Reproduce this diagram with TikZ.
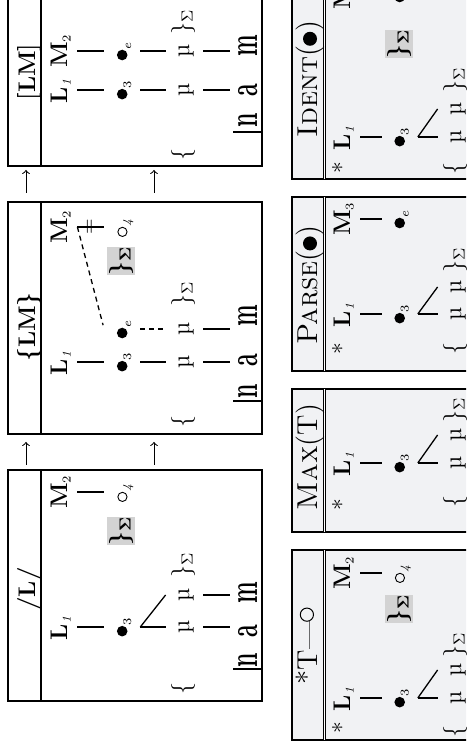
\documentclass[tikz,border=0pt]{standalone}
\usepackage{amsmath}
\usepackage{amssymb}
\usepackage{xcolor}
\usepackage{tikz}
\usetikzlibrary{arrows}

\definecolor{tabgray}{HTML}{F1F2F4}
\definecolor{hilite}{HTML}{D3D3D3}

\newcommand{\hdot}{\tikz\fill (0,0) circle (2.65pt);}
\newcommand{\bigdot}{\tikz\fill (0,0) circle (3.5pt);}
\newcommand{\hring}{\tikz\draw[line width=0.45pt] (0,0) circle (2.3pt);}
\newcommand{\bigring}{\raisebox{1.5pt}{\tikz\draw[line width=0.5pt] (0,0) circle (3.3pt);}}
\newcommand{\ix}[1]{$_{\scriptscriptstyle #1}$}
\newcommand{\nam}[1]{\scalebox{0.55}[1]{#1}}

\tikzstyle{line} = [draw, line width=0.65pt]
\tikzstyle{ins} = [draw, line width=0.65pt, dash pattern=on 2.5pt off 2pt]
\tikzstyle{cand} = [draw, line width=0.65pt]
\tikzstyle{tabl} = [draw, fill=tabgray, line width=0.65pt]
\tikzstyle{titlerule} = [draw, line width=1.1pt]
\tikzstyle{dblrule} = [draw, double, line width=0.45pt, double distance=0.8pt]
\tikzstyle{flow} = [draw, ->, line width=0.5pt]
\tikzstyle{ttl} = [font=\large\bfseries, anchor=base, inner sep=0pt]
\tikzstyle{ctitle} = [font=\Large, anchor=base, inner sep=0pt]
\tikzstyle{tone} = [font=\large, anchor=base, inner xsep=0pt, inner ysep=5pt, text height=8.5pt, text depth=0pt]
\tikzstyle{tbu} = [font=\large, anchor=base, inner xsep=0pt, inner ysep=6.2pt, text height=5.3pt, text depth=0pt]
\tikzstyle{mora} = [font=\large, anchor=base, inner xsep=0pt, inner ysep=6.3pt, text height=5.2pt, text depth=0.7pt]
\tikzstyle{brk} = [font=\large, anchor=base, inner sep=0pt]
\tikzstyle{foot} = [font=\large\boldmath, fill=hilite, inner sep=0pt, minimum width=11pt, minimum height=14pt]
\tikzstyle{seg} = [font=\fontsize{21}{24}\selectfont\bfseries, anchor=base, inner xsep=0pt, inner ysep=4pt, text height=9.5pt, text depth=0pt]
\tikzstyle{bdry} = [anchor=south, inner sep=0pt]
\tikzstyle{delink} = [font=\normalsize, inner sep=0pt]

\begin{document}
\begin{tikzpicture}[x=0.5pt, y=0.5pt]
\path[use as bounding box] (0,0) rectangle (466,747);
\clip (0,0) rectangle (466,747);
\begin{scope}[rotate=90, transform shape]
%
% /L/
\draw[cand] (46,-8) rectangle (277,-262);
\draw[titlerule] (46,-41) -- (277,-41);
\node[ttl] (aT) at (158,-35) {/L/};
\node[tone] (aL) at (120,-67) {\textbf{L}\ix{\mathit{1}}};
\node[tone] (aM) at (255,-67) {\textbf{M}\ix{2}};
\node[tbu] (a3) at (120,-127.5) {\hdot\ix{3}};
\node[tbu] (a4) at (255,-127.5) {\hring\ix{\mathit{4}}};
\node[foot] (aF) at (216,-121) {$\}_{\Sigma}$};
\node[brk] (aLb) at (58,-189) {$\{$};
\node[mora] (am1) at (120,-189) {\textmu};
\node[mora] (am2) at (152,-189) {\textmu};
\node[brk] (aRb) at (182,-189) {$\}_{\Sigma}$};
\node[bdry] (aB) at (78,-262) {\rule{0.65pt}{14.5pt}};
\node[seg] (asn) at (87,-257) {\nam{n}};
\node[seg] (asa) at (116,-257) {\nam{a}};
\node[seg] (asm) at (154,-257) {\nam{m}};
\draw[line] (aL) -- (a3);
\draw[line] (aM) -- (a4);
\draw[line] (a3) -- (am1);
\draw[line] (a3.south) -- (am2.north);
\draw[line] (am1) -- (am1 |- asa.north);
\draw[line] (am2) -- (am2 |- asm.north);
%
\coordinate (ab1) at (282,-26);
\coordinate (ab2) at (305,-26);
\coordinate (ab3) at (282,-154);
\coordinate (ab4) at (305,-154);
\draw[flow] (ab1) -- (ab2);
\draw[flow] (ab3) -- (ab4);
%
% {LM}
\draw[cand] (313,-8) rectangle (545,-262);
\draw[titlerule] (313,-41) -- (545,-41);
\node[ttl] (bT) at (420,-35) {\{LM\}};
\node[tone] (bL) at (385,-67) {\textbf{L}\ix{\mathit{1}}};
\node[tone] (bM) at (520,-67) {\textbf{M}\ix{2}};
\node[tbu] (b3) at (385,-127.5) {\hdot\ix{3}};
\node[tbu] (be) at (418,-127.5) {\hdot\ix{e}};
\node[tbu] (b4) at (520,-127.5) {\hring\ix{\mathit{4}}};
\node[foot] (bF) at (486,-121) {$\}_{\Sigma}$};
\node[brk] (bLb) at (325,-189) {$\{$};
\node[mora] (bm1) at (385,-189) {\textmu};
\node[mora] (bm2) at (418,-189) {\textmu};
\node[brk] (bRb) at (453,-189) {$\}_{\Sigma}$};
\node[bdry] (bB) at (346,-262) {\rule{0.65pt}{14.5pt}};
\node[seg] (bsn) at (356,-257) {\nam{n}};
\node[seg] (bsa) at (387,-257) {\nam{a}};
\node[seg] (bsm) at (431,-257) {\nam{m}};
\draw[line] (bL) -- (b3);
\draw[line] (bM) -- (b4) node[midway, delink] {$=$};
\draw[ins, shorten >=2pt] (bM.south) -- (be.north);
\draw[line] (b3) -- (bm1);
\draw[ins] (be) -- (bm2);
\draw[line] (bm1) -- (bm1 |- bsa.north);
\draw[line] (bm2) -- (bm2 |- bsm.north);
%
\coordinate (bc1) at (554,-26);
\coordinate (bc2) at (577,-26);
\coordinate (bc3) at (554,-154);
\coordinate (bc4) at (577,-154);
\draw[flow] (bc1) -- (bc2);
\draw[flow] (bc3) -- (bc4);
%
% [LM]
\draw[cand] (581,-8) rectangle (800,-262);
\draw[titlerule] (581,-41) -- (800,-41);
\node[ttl] (cT) at (675,-35) {[LM]};
\node[tone] (cL) at (657,-67) {\textbf{L}\ix{\mathit{1}}};
\node[tone] (cM) at (696,-67) {\textbf{M}\ix{2}};
\node[tbu] (c3) at (657,-127.5) {\hdot\ix{3}};
\node[tbu] (ce) at (696,-127.5) {\hdot\ix{e}};
\node[brk] (cLb) at (592,-189) {$\{$};
\node[mora] (cm1) at (657,-189) {\textmu};
\node[mora] (cm2) at (696,-189) {\textmu};
\node[brk] (cRb) at (725,-189) {$\}_{\Sigma}$};
\node[bdry] (cB) at (615,-262) {\rule{0.65pt}{14.5pt}};
\node[seg] (csn) at (627,-257) {\nam{n}};
\node[seg] (csa) at (657,-257) {\nam{a}};
\node[seg] (csm) at (701,-257) {\nam{m}};
\draw[line] (cL) -- (c3);
\draw[line] (cM) -- (ce);
\draw[line] (c3) -- (cm1);
\draw[line] (ce) -- (cm2);
\draw[line] (cm1) -- (cm1 |- csa.north);
\draw[line] (cm2) -- (cm2 |- csm.north);
%
% *T---o
\draw[tabl] (7,-292) rectangle (197,-500);
\draw[dblrule] (7,-324.5) -- (197,-324.5);
\node[ctitle] (dT) at (101,-317) {*T---\bigring};
\node[brk] (dS) at (19,-350) {*};
\node[tone] (dL) at (49,-350) {\textbf{L}\ix{\mathit{1}}};
\node[tone] (dM) at (174,-350) {\textbf{M}\ix{2}};
\node[tbu] (d3) at (49,-405) {\hdot\ix{3}};
\node[tbu] (d4) at (174,-405) {\hring\ix{\mathit{4}}};
\node[foot] (dF) at (138,-399) {$\}_{\Sigma}$};
\node[brk] (dLb) at (15,-461) {$\{$};
\node[mora] (dm1) at (49,-461) {\textmu};
\node[mora] (dm2) at (77,-461) {\textmu};
\node[brk] (dRb) at (102,-461) {$\}_{\Sigma}$};
\draw[line] (dL) -- (d3);
\draw[line] (dM) -- (d4);
\draw[line] (d3) -- (dm1);
\draw[line] (d3.south) -- (dm2.north);
%
% Max(T)
\draw[tabl] (215,-292) rectangle (358,-500);
\draw[dblrule] (215,-324.5) -- (358,-324.5);
\node[ctitle] (eT) at (290,-317) {\textsc{Max}(T)};
\node[brk] (eS) at (242,-350) {*};
\node[tone] (eL) at (284,-350) {\textbf{L}\ix{\mathit{1}}};
\node[tbu] (e3) at (284,-405) {\hdot\ix{3}};
\node[brk] (eLb) at (245,-461) {$\{$};
\node[mora] (em1) at (284,-461) {\textmu};
\node[mora] (em2) at (312,-461) {\textmu};
\node[brk] (eRb) at (337,-461) {$\}_{\Sigma}$};
\draw[line] (eL) -- (e3);
\draw[line] (e3) -- (em1);
\draw[line] (e3.south) -- (em2.north);
%
% Parse(dot)
\draw[tabl] (376,-292) rectangle (550,-500);
\draw[dblrule] (376,-324.5) -- (550,-324.5);
\node[ctitle] (fT) at (462,-317) {\textsc{Parse}(\bigdot)};
\node[brk] (fS) at (398,-350) {*};
\node[tone] (fL) at (433,-350) {\textbf{L}\ix{\mathit{1}}};
\node[tone] (fM) at (528,-350) {\textbf{M}\ix{3}};
\node[tbu] (f3) at (433,-405) {\hdot\ix{3}};
\node[tbu] (fe) at (528,-405) {\hdot\ix{e}};
\node[brk] (fLb) at (398,-461) {$\{$};
\node[mora] (fm1) at (433,-461) {\textmu};
\node[mora] (fm2) at (460,-461) {\textmu};
\node[brk] (fRb) at (487,-461) {$\}_{\Sigma}$};
\draw[line] (fL) -- (f3);
\draw[line] (fM) -- (fe);
\draw[line] (f3) -- (fm1);
\draw[line] (f3.south) -- (fm2.north);
%
% Ident(dot)
\draw[tabl] (568,-292) rectangle (790,-500);
\draw[dblrule] (568,-324.5) -- (790,-324.5);
\node[ctitle] (gT) at (668,-317) {\textsc{Ident}(\bigdot)};
\node[brk] (gS) at (579,-350) {*};
\node[tone] (gL) at (610,-350) {\textbf{L}\ix{\mathit{1}}};
\node[tone] (gM) at (754,-350) {\textbf{M}\ix{2}};
\node[tbu] (g3) at (610,-405) {\hdot\ix{3}};
\node[tbu] (ge) at (754,-405) {\hdot\ix{e}};
\node[foot] (gF) at (703,-399) {$\}_{\Sigma}$};
\node[brk] (gLb) at (578,-461) {$\{$};
\node[mora] (gm1) at (610,-461) {\textmu};
\node[mora] (gm2) at (638,-461) {\textmu};
\node[brk] (gRb) at (667,-461) {$\}_{\Sigma}$};
\draw[line] (gL) -- (g3);
\draw[line] (gM) -- (ge);
\draw[line] (g3) -- (gm1);
\draw[line] (g3.south) -- (gm2.north);
\end{scope}
\end{tikzpicture}
\end{document}
